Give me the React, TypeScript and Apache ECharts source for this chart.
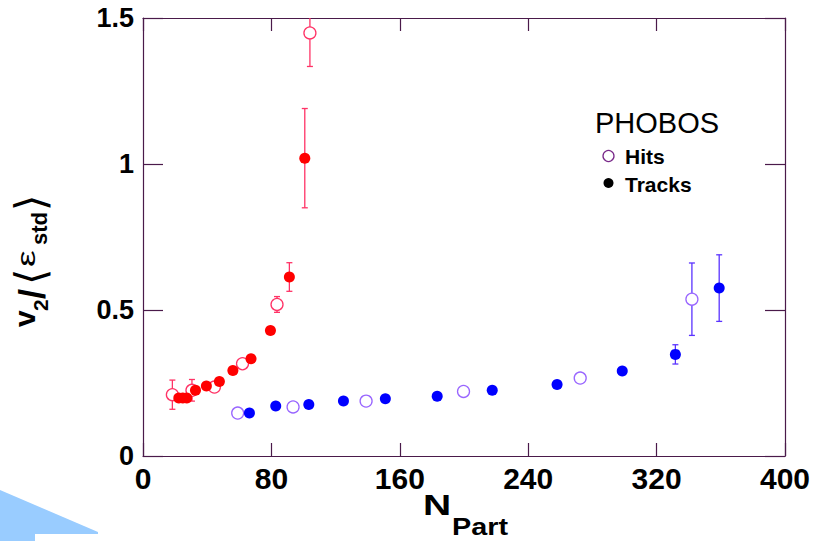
import React, { useEffect, useRef } from "react";
import * as echarts from "echarts";

// [N_part, v2/<eps>, error]
const redHits: number[][] = [
  [18.3, 0.21, 0.05],
  [30.5, 0.225, 0.037],
  [44.5, 0.236, 0],
  [62, 0.316, 0],
  [83.5, 0.519, 0.027],
  [104, 1.449, 0.115],
];
const redTracks: number[][] = [
  [22.3, 0.199, 0],
  [24.8, 0.199, 0],
  [27.3, 0.199, 0],
  [32.7, 0.225, 0],
  [39.5, 0.24, 0],
  [47.6, 0.255, 0],
  [56, 0.293, 0],
  [67.3, 0.333, 0],
  [79.4, 0.43, 0],
  [91.2, 0.613, 0.049],
  [100.8, 1.02, 0.17],
];
const blueHits: number[][] = [
  [59, 0.147, 0.012],
  [93.5, 0.168, 0],
  [139, 0.188, 0],
  [199.7, 0.221, 0],
  [272.4, 0.267, 0],
  [342, 0.537, 0.124],
];
const blueTracks: number[][] = [
  [66.3, 0.147, 0],
  [82.7, 0.171, 0],
  [103.3, 0.176, 0],
  [124.9, 0.188, 0],
  [151, 0.196, 0],
  [183.3, 0.205, 0],
  [217.6, 0.225, 0],
  [258, 0.245, 0],
  [298.6, 0.291, 0],
  [331.7, 0.348, 0.033],
  [359, 0.575, 0.114],
];

const xTicks = { min: 0, max: 400, interval: 80 };
const yTicks = { min: 0, max: 1.5, interval: 0.5 };
const legendTitle = "PHOBOS";
const legendLabels = ["Hits", "Tracks"];

const FRAME = "#4a1a4a";
const FONT = "'Liberation Sans', Arial, sans-serif";

function errorSeries(data: number[][], color: string, z: number) {
  return {
    type: "custom",
    clip: true,
    z,
    data: data.filter((d) => d[2] > 0),
    renderItem: (_p: any, api: any) => {
      const x = api.value(0);
      const v = api.value(1);
      const e = api.value(2);
      const top = api.coord([x, v + e]);
      const bot = api.coord([x, v - e]);
      const hw = 3;
      const st = { stroke: color, lineWidth: 1.3 };
      return {
        type: "group",
        children: [
          { type: "line", shape: { x1: top[0], y1: top[1], x2: bot[0], y2: bot[1] }, style: st },
          { type: "line", shape: { x1: top[0] - hw, y1: top[1], x2: top[0] + hw, y2: top[1] }, style: st },
          { type: "line", shape: { x1: bot[0] - hw, y1: bot[1], x2: bot[0] + hw, y2: bot[1] }, style: st },
        ],
      };
    },
  };
}

function openSeries(data: number[][], color: string, z: number) {
  return {
    type: "scatter",
    z,
    symbol: "circle",
    symbolSize: 12,
    data: data.map((d) => [d[0], d[1]]),
    itemStyle: { color: "#ffffff", borderColor: color, borderWidth: 1.3, opacity: 1 },
  };
}

function filledSeries(data: number[][], color: string, z: number) {
  return {
    type: "scatter",
    z,
    symbol: "circle",
    symbolSize: 11,
    data: data.map((d) => [d[0], d[1]]),
    itemStyle: { color, opacity: 1 },
  };
}

function txt(text: string, x: number, y: number, size: number, bold: boolean, extra: any = {}, family: string = FONT) {
  return {
    type: "text",
    x,
    y,
    ...extra,
    style: {
      text,
      x: 0,
      y: 0,
      fill: "#000",
      font: `${bold ? "bold " : ""}${size}px ${family}`,
      align: "left",
      verticalAlign: "middle",
    },
  };
}

// baseline helper: center = baseline - 0.3465*size
const c = (baseline: number, size: number) => baseline - 0.3465 * size;

export default function App() {
  const ref = useRef<HTMLDivElement>(null);
  useEffect(() => {
    if (!ref.current) return;
    const chart = echarts.init(ref.current, null, { renderer: "svg" });
    const axisCommon = {
      type: "value",
      axisLine: { show: true, onZero: false, lineStyle: { color: FRAME, width: 1.2 } },
      splitLine: { show: false },
    };
    const tick = (len: number) => ({
      show: true,
      inside: true,
      length: len,
      lineStyle: { color: FRAME, width: 1.2 },
    });
    chart.setOption({
      animation: false,
      backgroundColor: "#ffffff",
      grid: {
        left: 143,
        right: 46,
        top: 18,
        bottom: 85,
        show: false,
      },
      xAxis: [
        {
          ...axisCommon,
          position: "bottom",
          ...xTicks,
          axisTick: tick(13),
          axisLabel: {
            show: true,
            margin: 7,
            color: "#000",
            fontFamily: FONT,
            fontWeight: "bold",
            fontSize: 30,
          },
        },
        {
          ...axisCommon,
          position: "top",
          ...xTicks,
          axisTick: tick(13),
          axisLabel: { show: false },
        },
      ],
      yAxis: [
        {
          ...axisCommon,
          position: "left",
          ...yTicks,
          axisTick: tick(20),
          axisLabel: {
            show: true,
            margin: 9,
            color: "#000",
            fontFamily: FONT,
            fontWeight: "bold",
            fontSize: 27,
          },
        },
        {
          ...axisCommon,
          position: "right",
          ...yTicks,
          axisTick: tick(20),
          axisLabel: { show: false },
        },
      ],
      series: [
        errorSeries(redHits, "#ff3366", 2),
        errorSeries(redTracks, "#ff3366", 2),
        errorSeries(blueHits, "#5a33ff", 2),
        errorSeries(blueTracks, "#5a33ff", 2),
        openSeries(redHits, "#ff3366", 3),
        openSeries(blueHits, "#9966ff", 3),
        filledSeries(redTracks, "#ff0000", 4),
        filledSeries(blueTracks, "#0000ff", 4),
      ],
      graphic: [
        {
          type: "polygon",
          silent: true,
          shape: {
            points: [
              [0, 490],
              [98, 532],
              [98, 534],
              [35, 534],
              [35, 541],
              [0, 541],
            ],
          },
          style: { fill: "#99ccff" },
        },
        // legend
        txt(legendTitle, 595, c(133.3, 29), 29, false),
        {
          type: "circle",
          shape: { cx: 608.5, cy: 156, r: 5.5 },
          style: { fill: "#fff", stroke: "#7a2a8a", lineWidth: 1.3 },
        },
        txt(legendLabels[0], 625, c(163.3, 21), 21, true),
        {
          type: "circle",
          shape: { cx: 608.5, cy: 183, r: 5 },
          style: { fill: "#000" },
        },
        txt(legendLabels[1], 625, c(191.7, 21), 21, true),
        // x axis title
        txt("N", 423, c(515, 30), 30, true, { scaleX: 1.3 }),
        txt("Part", 452, c(535, 24), 24, true, { scaleX: 1.2 }),
        // y axis title
        {
          type: "group",
          x: 35,
          y: 327,
          rotation: Math.PI / 2,
          children: [
            txt("v", 0, c(0, 30), 30, true),
            txt("2", 16, c(13, 21), 21, true),
            txt("/", 28, c(9.5, 36), 36, true),
            txt("\u27E8", 42, -5, 42, false, {}, "'DejaVu Sans', sans-serif"),
            txt("\u03B5", 60, c(0, 26), 26, false, { scaleX: 1.45 }),
            txt("std", 82, c(11.7, 22), 22, true),
            txt("\u27E9", 116, -5, 42, false, {}, "'DejaVu Sans', sans-serif"),
          ],
        },
      ],
    });
    return () => chart.dispose();
  }, []);
  return (
    <div
      ref={ref}
      style={{ position: "fixed", left: 0, top: 0, width: 831, height: 541 }}
    />
  );
}
